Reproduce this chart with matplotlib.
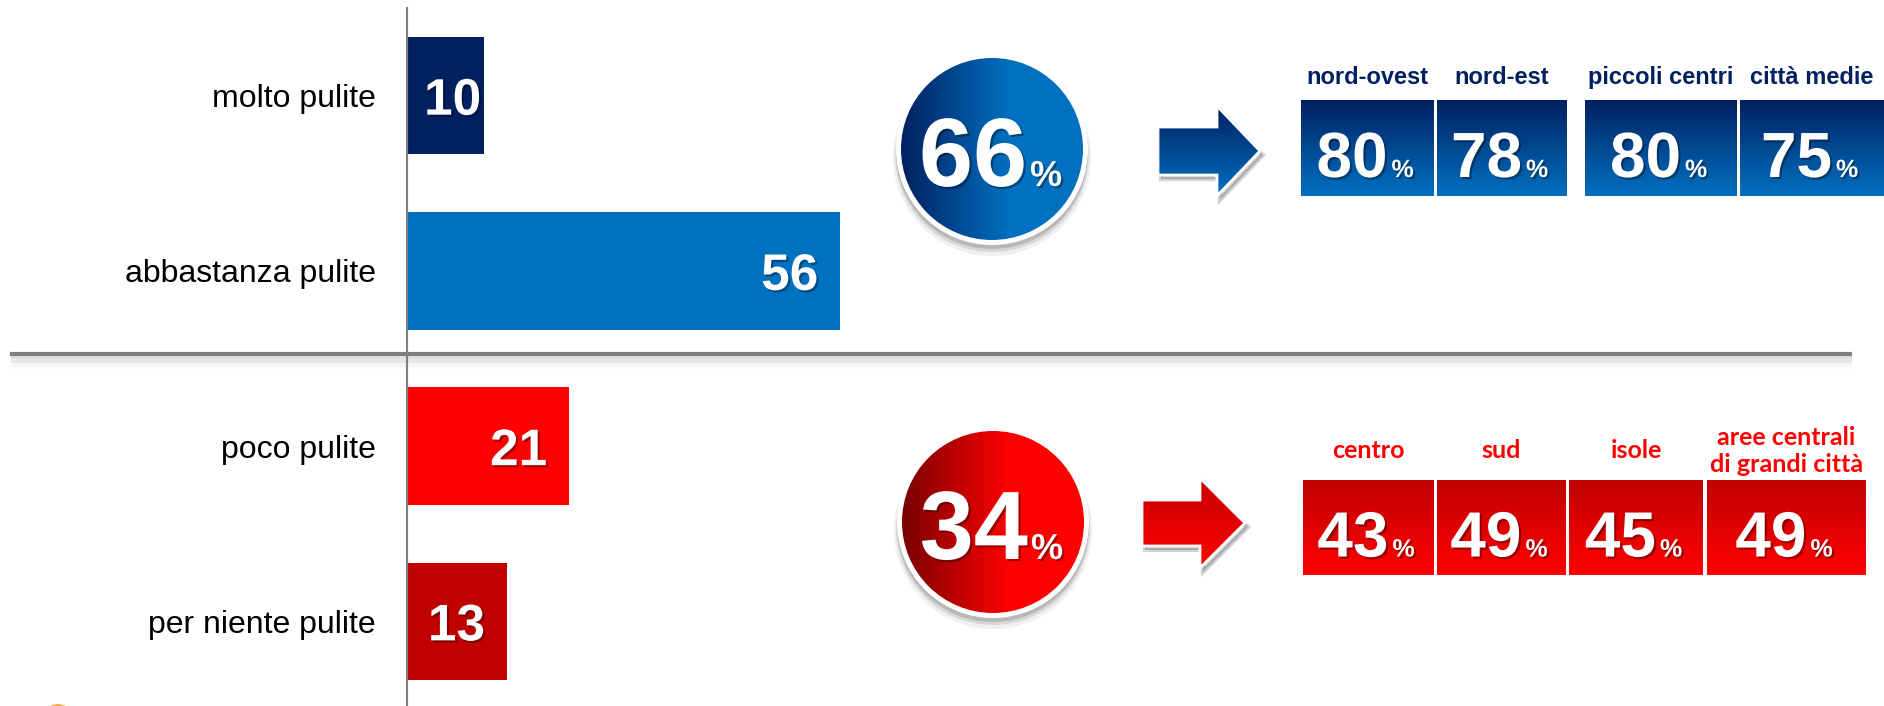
import numpy as np
import matplotlib
matplotlib.use('Agg')
import matplotlib.pyplot as plt
from matplotlib.patches import Circle, Polygon, Ellipse
from matplotlib import patheffects as pe
from matplotlib.colors import to_rgb
from matplotlib.lines import Line2D

# Dati
categories = ['molto pulite', 'abbastanza pulite', 'poco pulite', 'per niente pulite']
values = [10, 56, 21, 13]
pos_groups = ['nord-ovest', 'nord-est', 'piccoli centri', 'città medie']
pos_values = [80, 78, 80, 75]
neg_groups = ['centro', 'sud', 'isole', 'aree centrali\ndi grandi città']
neg_values = [43, 49, 45, 49]

pos_total = values[0] + values[1]
neg_total = values[2] + values[3]

# Stile
bar_colors = ['#002060', '#0070C0', '#FF0000', '#C00000']
NAVY, BLUE = '#002060', '#0070C0'
DRED, RED = '#C00000', '#FF0000'
plt.rcParams['font.family'] = ['Liberation Sans', 'DejaVu Sans']

W, H = 1884, 706
fig = plt.figure(figsize=(W / 100, H / 100), dpi=100)
fig.patch.set_facecolor('white')

shadow = [pe.withSimplePatchShadow(offset=(1.5, -1.5), shadow_rgbFace='black', alpha=0.35)]

# Grafico a barre
ax = fig.add_axes([406 / W, 0, 800 / W, 1])
px_per_unit = 7.75
ax.set_xlim(0, 800 / px_per_unit)
ax.set_ylim(3.483, -0.546)
y = np.arange(len(categories))
ax.barh(y, values, height=0.67, color=bar_colors, zorder=2)
ax.set_yticks(y, categories)
ax.tick_params(axis='y', length=0, pad=21.6, labelsize=23)
ax.tick_params(axis='x', bottom=False, labelbottom=False)
for s in ax.spines.values():
    s.set_visible(False)
ax.patch.set_visible(False)
ax.axvline(0, ymin=0, ymax=1 - 8 / H, color='#808080', lw=2.3, zorder=3)
for yi, v in zip(y, values):
    ax.text(max(v - 2.8, 9.7), yi, str(v), ha='right', va='center_baseline',
            fontsize=37, weight='bold', color='white', path_effects=shadow, zorder=4)

# Linea di separazione con ombra
ysep = 1 - 354 / H
for k, a in enumerate([0.25, 0.18, 0.12, 0.07, 0.03]):
    fig.add_artist(Line2D([12 / W, 1850 / W], [ysep - (3 + 2.5 * k) / H] * 2,
                          color='#808080', lw=2, alpha=a))
fig.add_artist(Line2D([12 / W, 1850 / W], [ysep, ysep], color='#808080', lw=3))

# Overlay in pixel
ov = fig.add_axes([0, 0, 1, 1])
ov.axis('off')


def gradient(patch, extent, c0, c1, horizontal=False, stop=1.0, z=3):
    t = np.clip(np.linspace(0, 1, 256) / stop, 0, 1)
    a, b = np.array(to_rgb(c0)), np.array(to_rgb(c1))
    row = a + (b - a) * t[:, None]
    img = row[None, :, :] if horizontal else row[:, None, :]
    x0, x1, y0, y1 = extent
    im = ov.imshow(img, extent=(x0, x1, y1, y0), origin='upper', aspect='auto',
                   interpolation='bilinear', zorder=z)
    ov.add_patch(patch)
    im.set_clip_path(patch)


def circle(cx, cy, c0, c1, val):
    for dy, r, a in [(8, 99, 0.06), (6, 97, 0.10), (4, 96, 0.14)]:
        ov.add_patch(Circle((cx, cy + dy), r, color='black', alpha=a, lw=0, zorder=2))
    ov.add_patch(Circle((cx, cy), 96, color='white', lw=0, zorder=2.5))
    inner = Circle((cx, cy), 91, facecolor='none', edgecolor='none', zorder=3.1)
    gradient(inner, (cx - 91, cx + 91, cy - 91, cy + 91), c0, c1, horizontal=True, stop=0.6)
    ov.text(cx + 35, cy + 37, str(val), ha='right', va='baseline', fontsize=70,
            weight='bold', color='white', path_effects=shadow, zorder=5)
    ov.text(cx + 38, cy + 37, '%', ha='left', va='baseline', fontsize=26,
            weight='bold', color='white', path_effects=shadow, zorder=5)


def arrow(x0, xh, xt, cy, hs, hh, c0, c1):
    pts = [(x0, cy - hs), (xh, cy - hs), (xh, cy - hh), (xt, cy), (xh, cy + hh),
           (xh, cy + hs), (x0, cy + hs)]
    sh = [(px + 3, py + 4) for px, py in pts]
    ov.add_patch(Polygon(sh, closed=True, color='black', alpha=0.18, lw=3, zorder=2))
    poly = Polygon(pts, closed=True, facecolor='none', edgecolor='white', lw=2, zorder=3.1)
    gradient(poly, (x0, xt, cy - hh, cy + hh), c0, c1)


def boxes(edges, top, bottom, c0, c1, labels, vals, label_color, label_y, label_font,
          label_size, label_va):
    for (xa, xb), lab, v in zip(edges, labels, vals):
        rect = Polygon([(xa, top), (xb, top), (xb, bottom), (xa, bottom)], closed=True,
                       facecolor='none', edgecolor='none', zorder=3.1)
        gradient(rect, (xa, xb, top, bottom), c0, c1)
        cx = (xa + xb) / 2
        base = (top + bottom) / 2 + 29
        ov.text(cx + 20, base, str(v), ha='right', va='baseline', fontsize=46,
                weight='bold', color='white', path_effects=shadow, zorder=5)
        ov.text(cx + 24, base, '%', ha='left', va='baseline', fontsize=18,
                weight='bold', color='white', path_effects=shadow, zorder=5)
        ov.text(cx, label_y, lab, ha='center', va=label_va, fontsize=label_size,
                weight='bold', color=label_color, family=label_font,
                linespacing=1.25, zorder=5)


circle(992, 149, NAVY, BLUE, pos_total)
circle(993, 522, '#7A0000', RED, neg_total)

arrow(1158, 1217, 1260, 151, 24, 45, NAVY, BLUE)
arrow(1142, 1200, 1245, 523, 23, 45, '#C80000', RED)

boxes([(1301, 1434), (1437, 1567), (1585, 1737), (1740, 1884)], 100, 196, NAVY, BLUE,
      pos_groups, pos_values, NAVY, 84, ['Liberation Sans', 'DejaVu Sans'], 17, 'baseline')
boxes([(1303, 1434), (1437, 1566), (1569, 1703), (1707, 1866)], 480, 575, DRED, RED,
      neg_groups, neg_values, RED, 451, ['Lato', 'DejaVu Sans'], 18, 'center')

# Piccolo logo tagliato in basso a sinistra
ov.add_patch(Ellipse((58, 718), 30, 28, color='#F4A640', alpha=0.9, lw=0, zorder=2))

ov.set_xlim(0, W)
ov.set_ylim(H, 0)

fig.savefig('out.png', dpi=100)
